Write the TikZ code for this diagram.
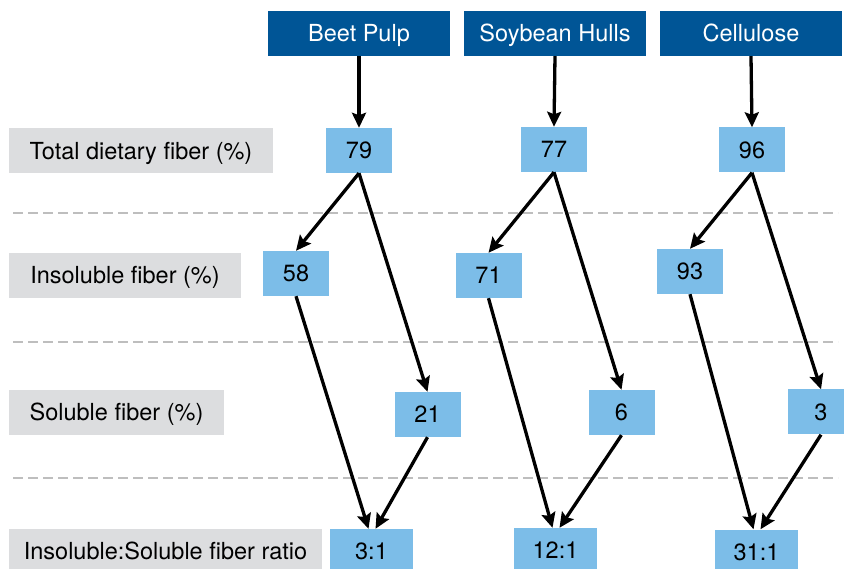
\documentclass[tikz,border=0pt]{standalone}
\usepackage{fontspec}
\setmainfont{TeX Gyre Heros}
\usetikzlibrary{arrows.meta,calc}
\definecolor{hdrblue}{RGB}{0,85,150}
\definecolor{valblue}{RGB}{124,189,232}
\definecolor{lblgray}{RGB}{220,221,223}
\definecolor{dashgray}{RGB}{190,190,190}
\tikzset{
  base/.style={inner sep=0pt, minimum height=45pt, text height=16.8pt, text depth=0pt, font=\fontsize{23.5}{27}\selectfont},
  hdr/.style={base, fill=hdrblue, text=white, minimum width=182pt},
  val/.style={base, fill=valblue, text=black, minimum width=66pt},
  ratio/.style={base, fill=valblue, text=black, minimum width=83pt},
  lbl/.style={base, fill=lblgray, text=black},
  arr/.style={line width=3.3pt, -{Stealth[length=15pt,width=14pt,inset=2.5pt]}},
  sep/.style={dashgray, line width=1.3pt, dash pattern=on 10pt off 5pt}
}
\begin{document}
\begin{tikzpicture}[x=1pt,y=-1pt]
\useasboundingbox (0,0) rectangle (844,569);
\clip (0,0) rectangle (844,569);
% separators
\coordinate (s1a) at (13,213); \coordinate (s1b) at (838,213);
\coordinate (s2a) at (13,342); \coordinate (s2b) at (838,342);
\coordinate (s3a) at (13,478); \coordinate (s3b) at (838,478);
\draw[sep] (s1a) -- (s1b);
\draw[sep] (s2a) -- (s2b);
\draw[sep] (s3a) -- (s3b);
% headers
\node[hdr] (hA) at (359,33.5) {Beet Pulp};
\node[hdr] (hB) at (555,33.5) {Soybean Hulls};
\node[hdr] (hC) at (751,33.5) {Cellulose};
% row labels
\node[lbl, minimum width=264pt] (l1) at (141,151) {Total dietary fiber (\%)};
\node[lbl, minimum width=232pt] (l2) at (125,275.5) {Insoluble fiber (\%)};
\node[lbl, minimum width=215pt] (l3) at (116.5,412.5) {Soluble fiber (\%)};
\node[lbl, minimum width=313pt] (l4) at (165.5,551.5) {Insoluble:Soluble fiber ratio};
% values
\node[val] (tA) at (359,150.5) {79};
\node[val] (tB) at (554,149.5) {77};
\node[val] (tC) at (752,150) {96};
\node[val] (iA) at (296,273.5) {58};
\node[val] (iB) at (488.5,275.5) {71};
\node[val] (iC) at (690,271.5) {93};
\node[val] (sA) at (427.5,414.5) {21};
\node[val] (sB) at (621.5,412.5) {6};
\node[val] (sC) at (821,412) {3};
\node[ratio] (rA) at (371.5,551.5) {3:1};
\node[ratio] (rB) at (555.5,550.5) {12:1};
\node[ratio] (rC) at (756.5,552) {31:1};
% arrows
\foreach \c in {A,B,C}{
  \draw[arr] (h\c.south) -- (t\c.north);
  \draw[arr] (t\c.south) -- (i\c.north);
  \draw[arr] (t\c.south) -- (s\c.north);
  \draw[arr] (i\c.south) -- ($(r\c.north)+(-3,0)$);
  \draw[arr] (s\c.south) -- ($(r\c.north)+(4,0)$);
}
\end{tikzpicture}
\end{document}
